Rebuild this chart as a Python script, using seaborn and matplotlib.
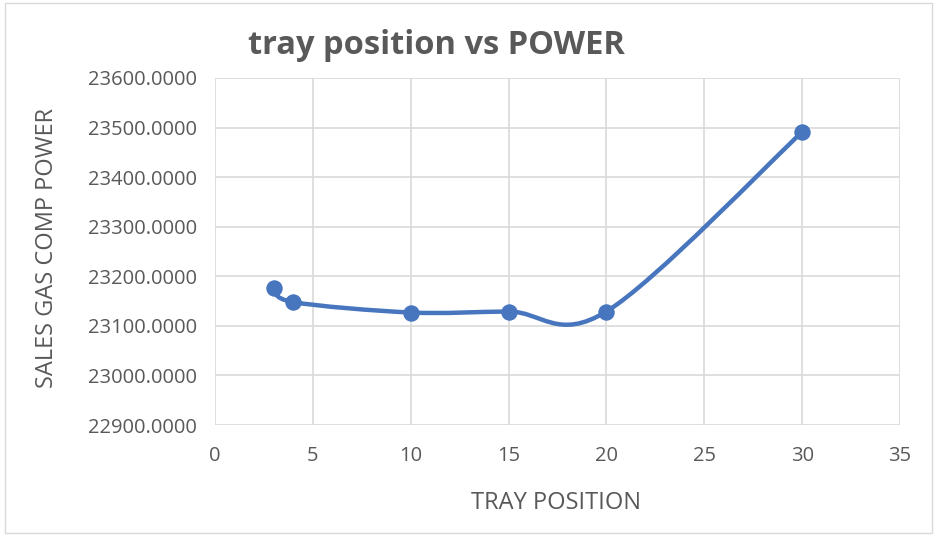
import numpy as np
import pandas as pd
import matplotlib
matplotlib.use("Agg")
import matplotlib.pyplot as plt
import seaborn as sns
from matplotlib.path import Path
from matplotlib.patches import PathPatch, Rectangle

tray_position = [3, 4, 10, 15, 20, 30]
power = [23176, 23148, 23127, 23129, 23129, 23491]
x_ticks = [0, 5, 10, 15, 20, 25, 30, 35]
y_ticks = [22900, 23000, 23100, 23200, 23300, 23400, 23500, 23600]

df = pd.DataFrame({"TRAY POSITION": tray_position, "POWER": power})

sns.set_theme(style="white")
plt.rcParams['font.family'] = ['Open Sans', 'DejaVu Sans']

color = "#4775BE"
text_color = "#595959"

fig = plt.figure(figsize=(9.37, 5.36), dpi=100)
ax = fig.add_axes([0.2295, 0.207, 0.7310, 0.6475])

# Excel-style smoothed line (Bezier through the data points)
pts = np.column_stack([df["TRAY POSITION"].to_numpy(float), df["POWER"].to_numpy(float)])
n = len(pts)
verts = [tuple(pts[0])]
codes = [Path.MOVETO]
for i in range(n - 1):
    p0 = pts[i - 1] if i > 0 else pts[i]
    p1 = pts[i]
    p2 = pts[i + 1]
    p3 = pts[i + 2] if i + 2 < n else pts[i + 1]
    c1 = p1 + (p2 - p0) / 6.0
    c2 = p2 - (p3 - p1) / 6.0
    verts += [tuple(c1), tuple(c2), tuple(p2)]
    codes += [Path.CURVE4] * 3
ax.add_patch(PathPatch(Path(verts, codes), facecolor="none", edgecolor=color,
                       lw=3.2, capstyle="round", joinstyle="round", zorder=3))

sns.scatterplot(data=df, x="TRAY POSITION", y="POWER", ax=ax, color=color,
                s=140, edgecolor=color, linewidth=0, zorder=4, legend=False)

ax.set_xlim(0, 35)
ax.set_ylim(22900, 23600)
ax.set_xticks(x_ticks)
ax.set_yticks(y_ticks)
ax.set_xticklabels([str(t) for t in x_ticks])
ax.set_yticklabels([f"{t:.4f}" for t in y_ticks])
ax.grid(True, color="#d9d9d9", lw=1.2)
ax.set_axisbelow(True)
for s in ax.spines.values():
    s.set_visible(False)
ax.tick_params(axis="y", length=0, labelsize=14.5, colors=text_color, pad=13)
ax.tick_params(axis="x", length=0, labelsize=14.5, colors=text_color, pad=15)

ax.set_xlabel("TRAY POSITION", fontsize=17, color=text_color)
ax.set_ylabel("SALES GAS COMP POWER", fontsize=17, color=text_color)
ax.xaxis.set_label_coords(0.498, -0.19)
ax.yaxis.set_label_coords(-0.228, 0.51)

fig.text(0.466, 0.916, "tray position vs POWER", ha="center", va="center",
         fontsize=23.5, fontweight="bold", color=text_color)

fig.patches.append(Rectangle((0.005, 0.005), 0.99, 0.99, transform=fig.transFigure,
                             fill=False, edgecolor="#d9d9d9", lw=1.0))

fig.savefig("out.png", dpi=100, facecolor="white")
